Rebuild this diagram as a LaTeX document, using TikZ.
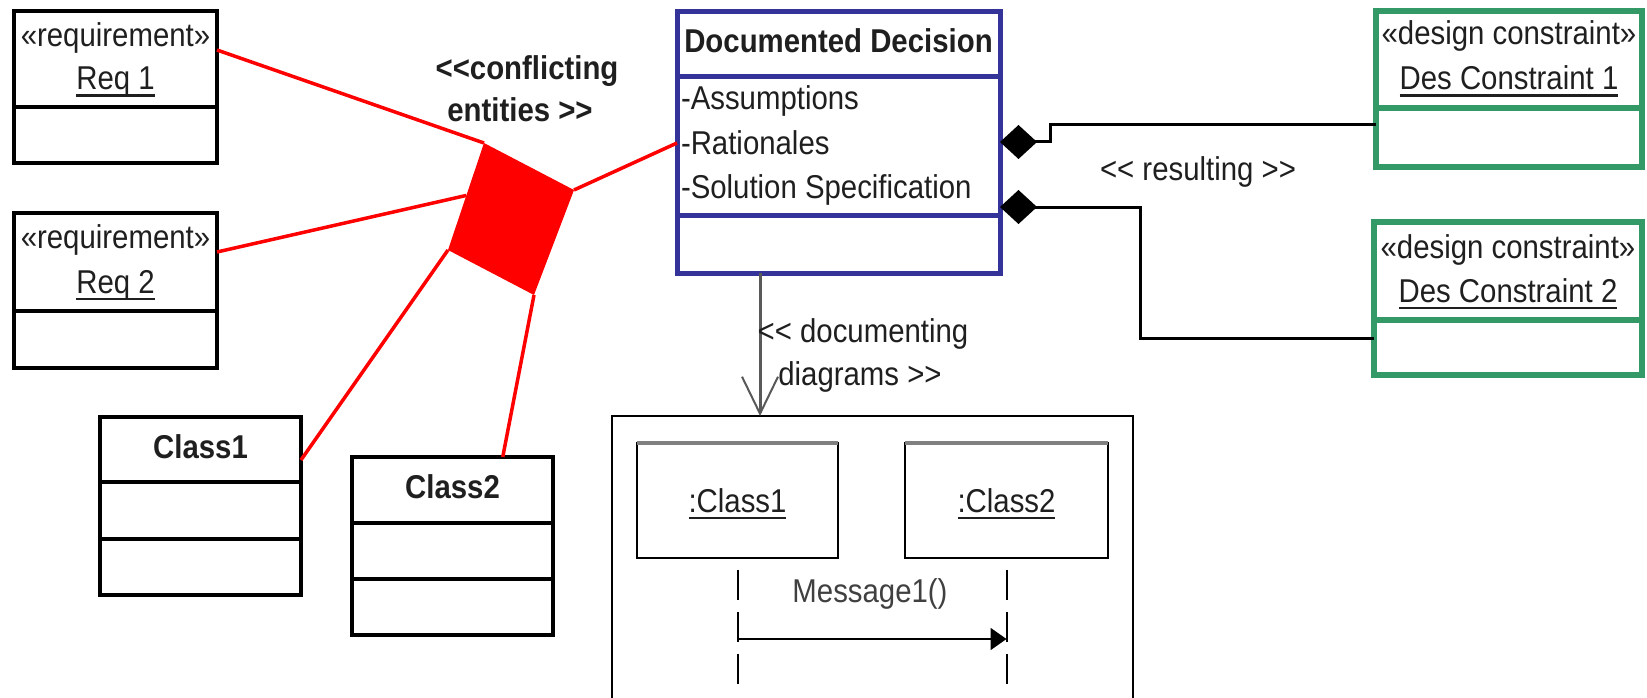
\documentclass[tikz,border=0pt]{standalone}
\usepackage{fontspec}
\setmainfont{Liberation Sans}
\newfontfamily\umlf[FakeStretch=0.89]{Liberation Sans}
\usetikzlibrary{arrows.meta,calc}
\definecolor{ddblue}{RGB}{51,51,153}
\definecolor{dcgreen}{RGB}{51,153,102}
\newcommand\myul[1]{\setbox0\hbox{#1}\rlap{\rule[-7pt]{\wd0}{2.5pt}}\box0}
\begin{document}
\begin{tikzpicture}[x=1pt,y=-1pt,
  every node/.style={font=\umlf\fontsize{33}{40}\selectfont, inner sep=0pt, outer sep=0pt, text=black!88},
  classbox/.style={draw=black, line width=3.5pt, anchor=north west},
  ddbox/.style={draw=ddblue, line width=5pt, anchor=north west},
  dcbox/.style={draw=dcgreen, line width=6pt, anchor=north west},
  txt/.style={anchor=base},
  btxt/.style={anchor=base, font=\umlf\bfseries\fontsize{33}{40}\selectfont},
  divider/.style={line width=3.5pt},
  redline/.style={red, line width=3.5pt},
  comp/.style={black, line width=3pt, {Diamond[length=37pt,width=34pt]}-},
  docarrow/.style={black!65, line width=3pt, -{Straight Barb[length=37pt,width=36pt,line width=2pt]}}
]
\path[fill=white, use as bounding box] (0,0) rectangle (1647,698);

% requirement boxes
\node[classbox, minimum width=203pt, minimum height=152pt] (req1) at (14,11) {};
\draw[divider] (req1.west |- 0,107) -- (req1.east |- 0,107);
\node[txt] (req1s) at (115.5,47) {«requirement»};
\node[txt] (req1n) at (115.5,90) {\myul{Req 1}};

\node[classbox, minimum width=203pt, minimum height=155pt] (req2) at (14,213) {};
\draw[divider] (req2.west |- 0,311) -- (req2.east |- 0,311);
\node[txt] (req2s) at (115.5,248) {«requirement»};
\node[txt] (req2n) at (115.5,293) {\myul{Req 2}};

% class boxes
\node[classbox, minimum width=201pt, minimum height=178pt] (class1) at (100,417) {};
\draw[divider] (class1.west |- 0,482) -- (class1.east |- 0,482);
\draw[divider] (class1.west |- 0,539) -- (class1.east |- 0,539);
\node[btxt] (class1n) at (200.5,458) {Class1};

\node[classbox, minimum width=201pt, minimum height=178pt] (class2) at (352,457) {};
\draw[divider] (class2.west |- 0,523) -- (class2.east |- 0,523);
\draw[divider] (class2.west |- 0,579) -- (class2.east |- 0,579);
\node[btxt] (class2n) at (452.5,498) {Class2};

% conflict diamond
\coordinate (dT) at (484,143);
\coordinate (dR) at (574,190);
\coordinate (dB) at (534,295);
\coordinate (dL) at (448,250);
\fill[red] (dT) -- (dR) -- (dB) -- (dL) -- cycle;
\node[btxt] (conf1) at (527,80) {<<conflicting};
\node[btxt] (conf2) at (520,122) {entities >>};

% documented decision
\node[ddbox, minimum width=323pt, minimum height=261pt] (dd) at (677,12) {};
\draw[ddblue, line width=5pt] (dd.west |- 0,77) -- (dd.east |- 0,77);
\draw[ddblue, line width=5pt] (dd.west |- 0,215) -- (dd.east |- 0,215);
\node[btxt] (ddn) at (838.5,53) {Documented Decision};
\node[anchor=base west] (a1) at (681,110) {-Assumptions};
\node[anchor=base west] (a2) at (681,154) {-Rationales};
\node[anchor=base west] (a3) at (681,198) {-Solution Specification};

% red connectors
\draw[redline] (req1.east |- 0,50) -- (dT);
\draw[redline] (req2.east |- 0,252) -- ($(dT)!0.49!(dL)$);
\draw[redline] (dL) -- (class1.east |- 0,460);
\draw[redline] (dB) -- ($(class2.north west)!0.75!(class2.north east)$);
\draw[redline] (dR) -- (dd.west |- 0,143);

% design constraints
\node[dcbox, minimum width=266pt, minimum height=156pt] (dc1) at (1376,11) {};
\draw[dcgreen, line width=6pt] (dc1.west |- 0,108) -- (dc1.east |- 0,108);
\node[txt] (dc1s) at (1509,45) {«design constraint»};
\node[txt] (dc1n) at (1509,90) {\myul{Des Constraint 1}};

\node[dcbox, minimum width=268pt, minimum height=153pt] (dc2) at (1374,222) {};
\draw[dcgreen, line width=6pt] (dc2.west |- 0,320) -- (dc2.east |- 0,320);
\node[txt] (dc2s) at (1508,258) {«design constraint»};
\node[txt] (dc2n) at (1508,302) {\myul{Des Constraint 2}};

% composition connectors
\draw[comp] (dd.east |- 0,142) -- (1050,142) -- (1050,125) -- (dc1.west |- 0,125);
\draw[comp] (dd.east |- 0,207) -- (1140,207) -- (1140,338) -- (dc2.west |- 0,338);
\node[txt] (res) at (1198,180) {<< resulting >>};

% sequence diagram frame
\node[draw, line width=2pt, anchor=north west, minimum width=521pt, minimum height=292pt] (frame) at (612,416) {};
\coordinate (ds) at ($(dd.south west)!0.257!(dd.south east)$);
\draw[docarrow] (ds) -- (ds |- frame.north);
\node[txt] (doc1) at (863,342) {<< documenting};
\node[txt] (doc2) at (860,385) {diagrams >>};

% object boxes
\node[draw, line width=2pt, anchor=north west, minimum width=201pt, minimum height=115pt] (oc1) at (637,443) {};
\draw[black!50, line width=4pt] (oc1.north west) -- (oc1.north east);
\node[txt] (oc1n) at (737.5,512) {\myul{:Class1}};
\node[draw, line width=2pt, anchor=north west, minimum width=203pt, minimum height=115pt] (oc2) at (905,443) {};
\draw[black!50, line width=4pt] (oc2.north west) -- (oc2.north east);
\node[txt] (oc2n) at (1006.5,512) {\myul{:Class2}};

% lifelines and message
\coordinate (l1t) at (oc1.south |- 0,570);
\coordinate (l1b) at (oc1.south |- 0,684);
\coordinate (l2t) at (oc2.south |- 0,570);
\coordinate (l2b) at (oc2.south |- 0,684);
\draw[line width=2pt, dash pattern=on 30pt off 12pt] (l1t) -- (l1b);
\draw[line width=2pt, dash pattern=on 30pt off 12pt] (l2t) -- (l2b);
\coordinate (m1) at (oc1.south |- 0,639);
\coordinate (m2) at (oc2.south |- 0,639);
\draw[line width=2pt, -{Triangle[length=16pt,width=22pt]}] (m1) -- (m2);
\node[txt, text=black!75] (msg) at (870,602) {Message1()};
\end{tikzpicture}
\end{document}
